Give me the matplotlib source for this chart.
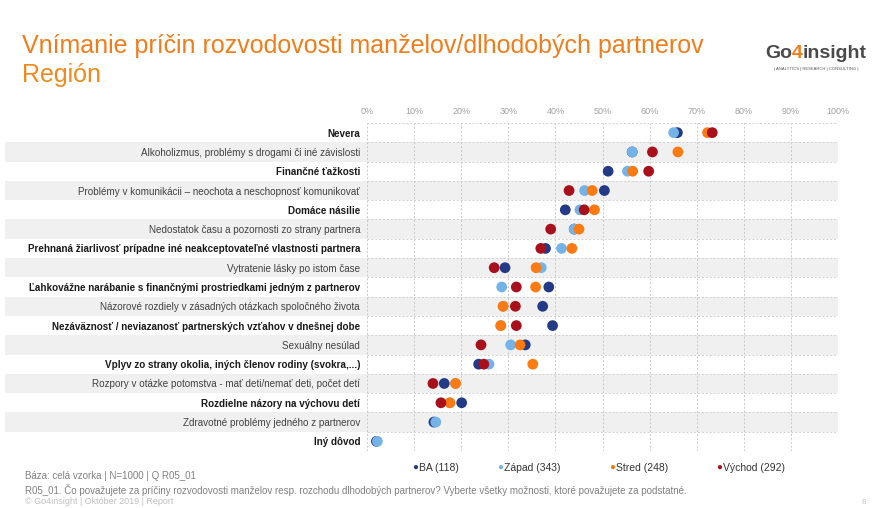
import numpy as np
import matplotlib
matplotlib.use('Agg')
import matplotlib.pyplot as plt
from matplotlib.patches import Rectangle
from matplotlib.transforms import blended_transform_factory

plt.rcParams['font.family'] = ['Liberation Sans', 'DejaVu Sans']

# Data (share of respondents, %)
categories = [
    'Nevera',
    'Alkoholizmus, problémy s drogami či iné závislosti',
    'Finančné ťažkosti',
    'Problémy v komunikácii – neochota a neschopnosť komunikovať',
    'Domáce násilie',
    'Nedostatok času a pozornosti zo strany partnera',
    'Prehnaná žiarlivosť prípadne iné neakceptovateľné vlastnosti partnera',
    'Vytratenie lásky po istom čase',
    'Ľahkovážne narábanie s finančnými prostriedkami jedným z partnerov',
    'Názorové rozdiely v zásadných otázkach spoločného života',
    'Nezáväznosť / neviazanosť partnerských vzťahov v dnešnej dobe',
    'Sexuálny nesúlad',
    'Vplyv zo strany okolia, iných členov rodiny (svokra,...)',
    'Rozpory v otázke potomstva - mať deti/nemať deti, počet detí',
    'Rozdielne názory na výchovu detí',
    'Zdravotné problémy jedného z partnerov',
    'Iný dôvod',
]
ba     = [65.9, 56.3, 51.2, 50.4, 42.1, 44.0, 37.9, 29.3, 38.6, 37.3, 39.4, 33.6, 23.7, 16.4, 20.1, 14.2, 2.0]
zapad  = [65.1, 56.3, 55.3, 46.2, 45.2, 44.0, 41.3, 37.0, 28.6, 28.9, 28.4, 30.5, 25.9, 18.8, 17.6, 14.6, 2.2]
stred  = [72.3, 66.0, 56.4, 47.8, 48.3, 45.0, 43.5, 35.9, 35.8, 28.9, 28.4, 32.5, 35.2, 18.8, 17.6, np.nan, np.nan]
vychod = [73.3, 60.6, 59.8, 42.9, 46.1, 39.0, 36.9, 27.0, 31.7, 31.5, 31.7, 24.2, 24.8, 14.0, 15.7, np.nan, np.nan]

series = [
    ('BA (118)', ba, '#233a86'),
    ('Západ (343)', zapad, '#74b3e7'),
    ('Stred (248)', stred, '#fb7a12'),
    ('Východ (292)', vychod, '#a8101b'),
]

W, H = 881, 508
fig = plt.figure(figsize=(W / 100, H / 100), dpi=100)
fig.patch.set_facecolor('white')

x0, x1 = 367, 838
y_top, y_bot = 123, 451
ax = fig.add_axes([x0 / W, 1 - y_bot / H, (x1 - x0) / W, (y_bot - y_top) / H])
ax.set_facecolor('none')

n = len(categories)
y = np.arange(n)
ax.set_xlim(0, 100)
ax.set_ylim(n - 0.5, -0.5)

# alternating row shading, running under the labels too
trans = blended_transform_factory(fig.transFigure, ax.transData)
for i in range(n):
    if i % 2 == 1:
        ax.add_patch(Rectangle((5 / W, i - 0.5), (x1 - 5) / W, 1.0, transform=trans,
                               facecolor='#f0f0f0', edgecolor='none', clip_on=False, zorder=0))

# dashed grid
for v in range(0, 101, 10):
    ax.axvline(v, color='#c8c8c8', lw=0.7, ls=(0, (2, 2)), zorder=1)
for i in range(n + 1):
    ax.axhline(i - 0.5, color='#d0d0d0', lw=0.7, ls=(0, (2, 2)), zorder=1)
for s in ax.spines.values():
    s.set_visible(False)

for k, (name, vals, col) in enumerate(series):
    ax.scatter(vals, y, s=60, color=col, edgecolors='none', zorder=3 + k)

ax.xaxis.tick_top()
ax.set_xticks(range(0, 101, 10))
ax.set_xticklabels([f'{v}%' for v in range(0, 101, 10)], fontsize=6.5, color='#a0a0a0')
ax.tick_params(axis='x', length=0, pad=5)
ax.set_yticks(y)
ax.set_yticklabels(categories, fontsize=7.1, color='#1a1a1a')
for i, lab in enumerate(ax.get_yticklabels()):
    if i % 2 == 0:
        lab.set_fontweight('bold')
    else:
        lab.set_color('#404040')
ax.tick_params(axis='y', length=0, pad=5)

# title
fig.text(22 / W, 1 - 46 / H, 'Vnímanie príčin rozvodovosti manželov/dlhodobých partnerov',
         fontsize=18, color='#f07d1c', va='center', ha='left')
fig.text(22 / W, 1 - 75 / H, 'Región', fontsize=18, color='#f08a1c', va='center', ha='left')

# logo
t1 = fig.text(765 / W, 1 - 53 / H, 'Go', fontsize=14, fontweight='bold', color='#4a4a4a',
              va='center', ha='left')
t2 = fig.text(0, 0, '4', fontsize=14, fontweight='bold', color='#f07d1c', va='bottom', ha='left')
t3 = fig.text(0, 0, 'insight', fontsize=14, fontweight='bold', color='#4a4a4a', va='bottom', ha='left')
fig.canvas.draw()
r = fig.canvas.get_renderer()
bb = t1.get_window_extent(r)
t2.set_position((bb.x1 / W, bb.y0 / H))
bb2 = t2.get_window_extent(r)
t3.set_position((bb2.x1 / W, bb.y0 / H))
fig.text(816 / W, 1 - 69 / H, '| ANALYTICS | RESEARCH | CONSULTING |', fontsize=3,
         color='#555555', ha='center', va='center')

# legend
leg_x = [412, 497, 609, 716]
for (name, vals, col), lx in zip(series, leg_x):
    fig.text(lx / W, 1 - 467 / H, '\u25cf', fontsize=7, color=col, va='center', ha='left')
    fig.text((lx + 7) / W, 1 - 468 / H, name, fontsize=7.5, color='#333333', va='center', ha='left')

# footer
fig.text(25 / W, 1 - 476 / H, 'Báza: celá vzorka | N=1000 | Q R05_01', fontsize=7,
         color='#808080', va='center')
fig.text(25 / W, 1 - 490 / H,
         'R05_01. Čo považujete za príčiny rozvodovosti manželov resp. rozchodu dlhodobých partnerov? '
         'Vyberte všetky možnosti, ktoré považujete za podstatné.',
         fontsize=7, color='#808080', va='center')
fig.text(25 / W, 1 - 502 / H, '© Go4insight | Október 2019 | Report', fontsize=6.5,
         color='#c0c0c0', va='center')
fig.text(862 / W, 1 - 502 / H, '8', fontsize=6, color='#c0c0c0', va='center')

fig.savefig('out.png', dpi=100, facecolor='white')
